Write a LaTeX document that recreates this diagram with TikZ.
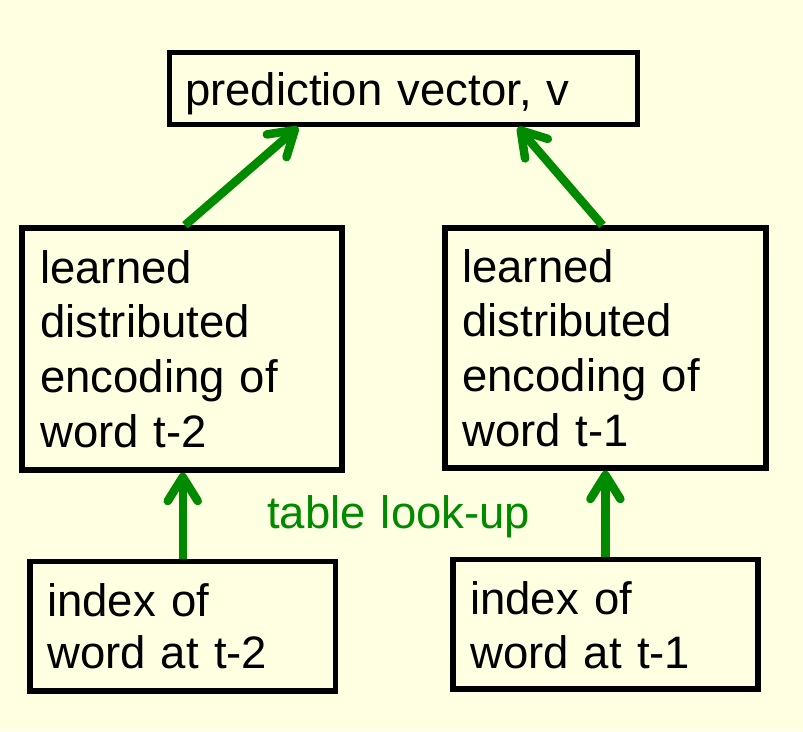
\documentclass[tikz,border=0pt]{standalone}
\usepackage{fontspec}
\setmainfont{Liberation Sans}
\usetikzlibrary{arrows.meta}
\definecolor{bg}{RGB}{255,255,226}
\definecolor{grn}{RGB}{0,138,0}
\begin{document}
\begin{tikzpicture}[x=1pt,y=-1pt,
  box/.style={draw=black, line width=5.5pt, fill=bg, inner sep=0pt},
  txt/.style={anchor=base west, inner sep=0pt, text width=#1, align=left},
  arr/.style={draw=grn, line width=8.5pt, -{Straight Barb[length=24pt, width=30pt, round]}}
]
\fill[bg] (0,0) rectangle (803,731);
\useasboundingbox (0,0) rectangle (803,731);

% boxes
\node[box, minimum width=468pt, minimum height=72pt] (top) at (403.5,88.5) {};
\node[box, minimum width=320pt, minimum height=242pt] (lm) at (182,349) {};
\node[box, minimum width=321pt, minimum height=240pt] (rm) at (605.5,348) {};
\node[box, minimum width=305.5pt, minimum height=129.5pt] (bl) at (182.75,626.25) {};
\node[box, minimum width=304.8pt, minimum height=129.3pt] (br) at (605.4,624.35) {};

% texts
\node[txt=440pt, font=\fontsize{45.5}{54.5}\selectfont] (ttop) at (185,105) {prediction vector, v};
\node[txt=290pt, font=\fontsize{45.5}{54.7}\selectfont] (tlm) at (40,283) {learned\\distributed\\encoding of\\word t-2};
\node[txt=290pt, font=\fontsize{45.5}{54.7}\selectfont] (trm) at (462,282) {learned\\distributed\\encoding of\\word t-1};
\node[txt=280pt, font=\fontsize{45.5}{52.3}\selectfont] (tbl) at (47,616) {index of\\word at t-2};
\node[txt=280pt, font=\fontsize{45.5}{54}\selectfont] (tbr) at (470,614) {index of\\word at t-1};
\node[txt=300pt, font=\fontsize{45.5}{54}\selectfont, text=grn] (look) at (267,528) {table look-up};

% arrows
\draw[arr] ([xshift=3pt]lm.north) -- ([xshift=-105.5pt]top.south);
\draw[arr] ([xshift=-3pt]rm.north) -- ([xshift=114.5pt]top.south);
\draw[arr] (bl.north) -- (bl.north |- lm.south);
\draw[arr] (br.north) -- (br.north |- rm.south);
\end{tikzpicture}
\end{document}
